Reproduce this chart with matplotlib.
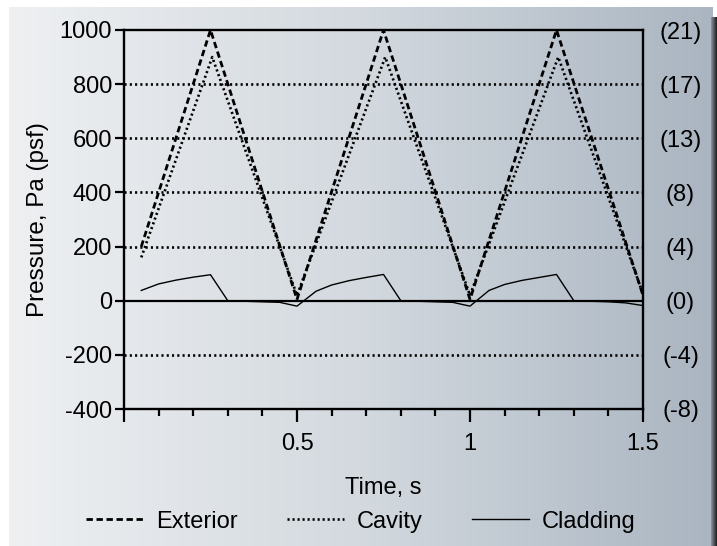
import numpy as np
import matplotlib.pyplot as plt
from matplotlib.colors import LinearSegmentedColormap
from matplotlib.ticker import MultipleLocator

plt.rcParams['font.family'] = ['Liberation Sans', 'DejaVu Sans']
plt.rcParams['axes.unicode_minus'] = False

# data
t_ext = [0.05, 0.25, 0.5, 0.75, 1.0, 1.25, 1.5]
p_ext = [200, 1000, 5, 1000, 5, 1000, 20]

t_cav = [0.05, 0.255, 0.5, 0.755, 1.0, 1.255, 1.5]
p_cav = [160, 900, 20, 900, 20, 900, 25]

t_clad = [0.05, 0.1, 0.15, 0.2, 0.25, 0.3, 0.35, 0.4, 0.45, 0.5,
          0.555, 0.6, 0.65, 0.7, 0.75, 0.8, 0.85, 0.9, 0.95, 1.0,
          1.055, 1.1, 1.15, 1.2, 1.25, 1.3, 1.35, 1.4, 1.45, 1.5]
p_clad = [38, 62, 76, 87, 96, 0, -2, -4, -6, -20,
          35, 58, 74, 86, 97, 0, -2, -4, -6, -20,
          38, 60, 75, 86, 97, 0, -2, -4, -8, -18]

y_ticks = [1000, 800, 600, 400, 200, 0, -200, -400]
psf_labels = ['(21)', '(17)', '(13)', '(8)', '(4)', '(0)', '(-4)', '(-8)']
grid_levels = [800, 600, 400, 200, -200]

fig = plt.figure(figsize=(7.17, 5.46), dpi=100)

# gradient background with white top/left strips and dark right edge
bg = fig.add_axes([9 / 717, 0, 704 / 717, 539 / 546], zorder=-10)
cmap = LinearSegmentedColormap.from_list('bg', ['#eef0f2', '#d3d9df', '#aab5c1'])
bg.imshow(np.linspace(0, 1, 256)[None, :], aspect='auto', cmap=cmap, extent=[0, 1, 0, 1])
bg.axis('off')
sh = fig.add_axes([711 / 717, 0, 6 / 717, 529 / 546], zorder=-9)
shade = LinearSegmentedColormap.from_list('sh', ['#8a949c', '#1e1e1e'])
sh.imshow(np.linspace(0, 1, 16)[None, :], aspect='auto', cmap=shade, extent=[0, 1, 0, 1])
sh.axis('off')

ax = fig.add_axes([124 / 717, 137 / 546, 519 / 717, 379 / 546])
ax.patch.set_alpha(0)

for lv in grid_levels:
    ax.axhline(lv, color='black', lw=1.9, ls=(0, (0.8, 1.2)), zorder=1)
ax.axhline(0, color='black', lw=1.6, zorder=1)

ax.plot(t_ext, p_ext, color='black', lw=2.0, ls=(0, (2.3, 1.3)), label='Exterior', zorder=3)
ax.plot(t_cav, p_cav, color='black', lw=1.9, ls=(0, (0.8, 1.1)), label='Cavity', zorder=3)
ax.plot(t_clad, p_clad, color='black', lw=1.0, label='Cladding', zorder=4)

ax.set_xlim(0, 1.5)
ax.set_ylim(-400, 1000)
ax.set_yticks(y_ticks)
ax.set_xticks([0, 0.5, 1.0, 1.5])
ax.set_xticklabels(['', '0.5', '1', '1.5'])
ax.xaxis.set_minor_locator(MultipleLocator(0.1))

for s in ax.spines.values():
    s.set_linewidth(1.7)

ax.tick_params(axis='x', which='major', length=9, width=1.6, direction='out',
               labelsize=17, pad=8)
ax.tick_params(axis='x', which='minor', length=5, width=1.6, direction='out')
ax.tick_params(axis='y', length=6.5, width=1.6, direction='out', labelsize=17, pad=2)

ax.set_xlabel('Time, s', fontsize=17, labelpad=16)
ax.set_ylabel('Pressure, Pa (psf)', fontsize=17.5, labelpad=8)

ax2 = ax.twinx()
ax2.set_ylim(ax.get_ylim())
ax2.set_yticks(y_ticks)
ax2.set_yticklabels(psf_labels, ha='center')
ax2.tick_params(axis='y', length=0, labelsize=17, pad=27)
for s in ax2.spines.values():
    s.set_visible(False)

ax.legend(loc='upper center', bbox_to_anchor=(0.456, -0.212), ncol=3, frameon=False,
          fontsize=17, handlelength=2.4, handletextpad=0.55, columnspacing=2.1)

fig.savefig('out.png', dpi=100)
